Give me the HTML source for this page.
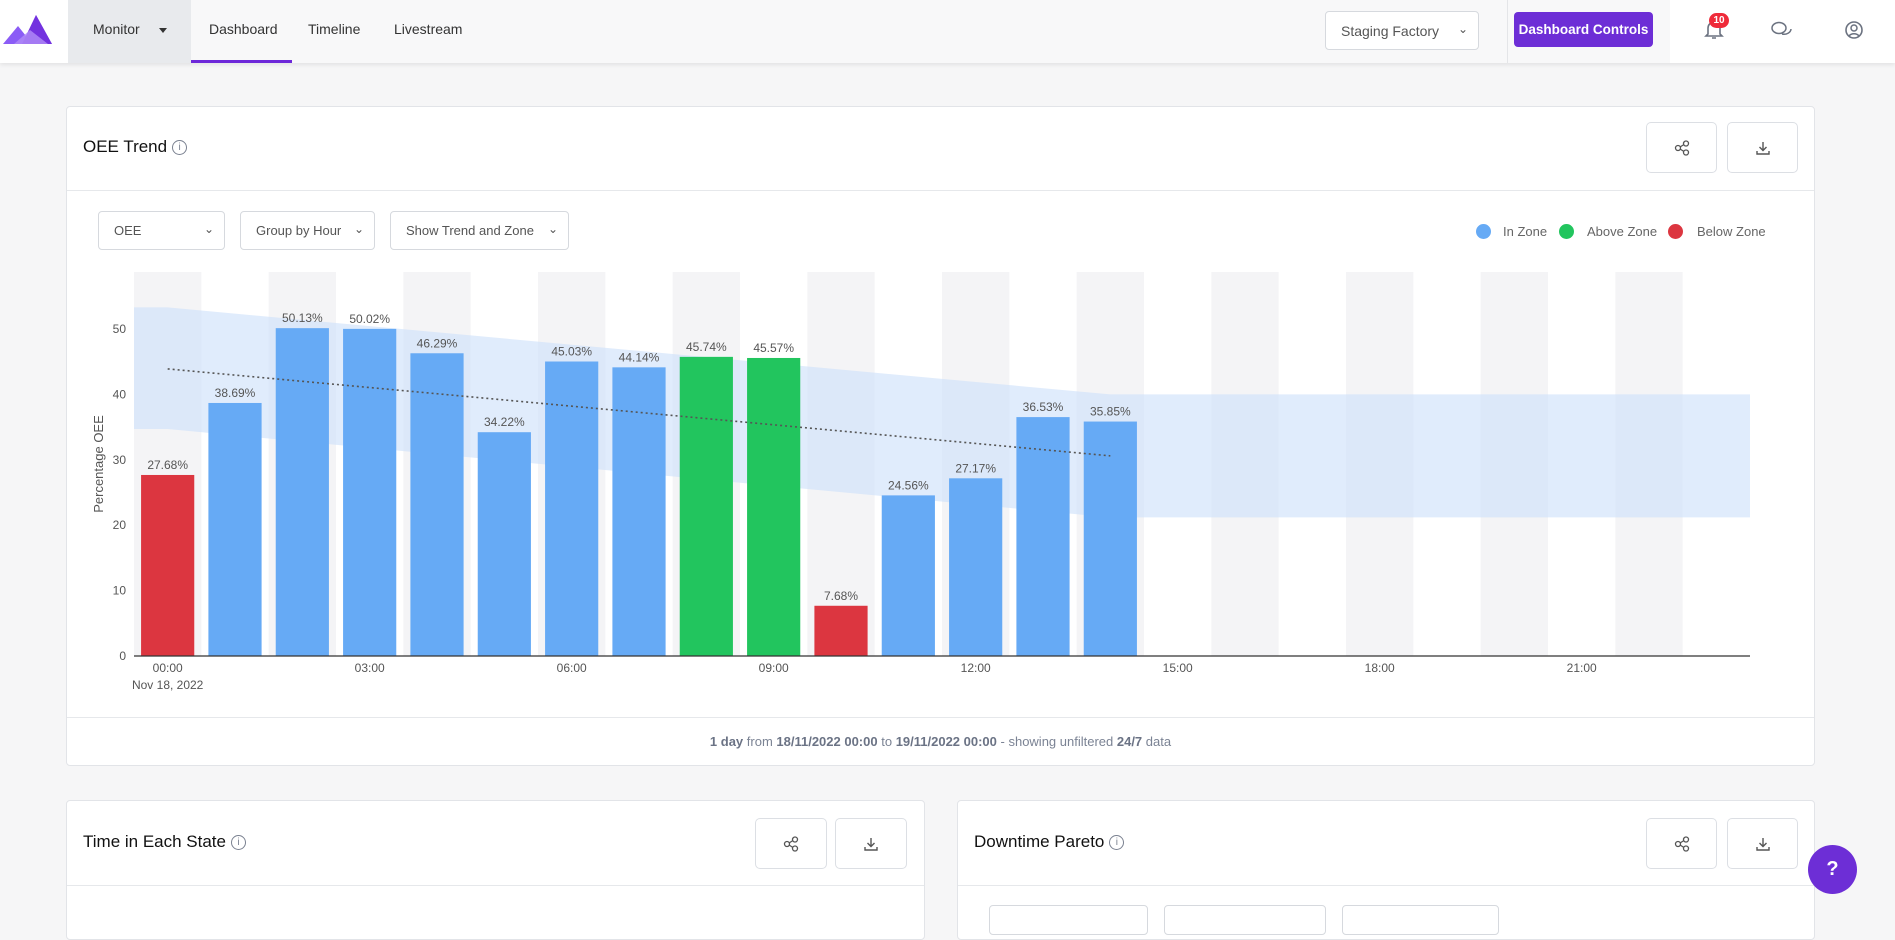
<!DOCTYPE html>
<html><head><meta charset="utf-8">
<style>
*{box-sizing:border-box;margin:0;padding:0}
body{width:1895px;height:915px;overflow:hidden;background:#f6f6f7;font-family:"Liberation Sans",sans-serif;position:relative;color:#333}
.abs{position:absolute}
.nav{left:0;top:0;width:1895px;height:63px;background:#f8f8f9;box-shadow:0 2px 4px rgba(0,0,0,.08)}
.navt{font-size:14px;color:#333;top:21px}
.card{background:#fff;border:1px solid #e2e4e8;border-radius:4px}
.btn{border:1px solid #dcdfe4;border-radius:5px;background:#fff;display:flex;align-items:center;justify-content:center}
.sel{border:1px solid #d6d9de;border-radius:4px;background:#fff;font-size:13px;color:#555;display:flex;align-items:center;padding-left:15px;white-space:nowrap}
.sel span.ch{position:absolute;right:10px;top:10px;font-size:12px;color:#555}
.title{font-size:17px;color:#111}
.info{display:inline-block;width:15px;height:15px;border:1.3px solid #7a8190;border-radius:50%;font-size:10px;text-align:center;line-height:13px;color:#7a8190;vertical-align:2px;margin-left:5px}
</style></head><body>
<div class="abs nav"></div>
<div class="abs" style="left:0;top:0;width:68px;height:63px;background:#fff">
<svg width="68" height="63"><polygon points="3,44 18,26 26,36 36,15 52,44" fill="#8b5cf6"/><polygon points="22,44 36,15 52,44" fill="#6d28d9" opacity=".8"/><polygon points="14,44 30,30 48,44" fill="#b18cf7" opacity=".8"/></svg></div>
<div class="abs" style="left:68px;top:0;width:123px;height:63px;background:#e8eaed"></div>
<div class="abs navt" style="left:93px">Monitor</div>
<div class="abs" style="left:159px;top:28px;border-left:4px solid transparent;border-right:4px solid transparent;border-top:5px solid #333"></div>
<div class="abs navt" style="left:209px">Dashboard</div>
<div class="abs" style="left:191px;top:60px;width:101px;height:3px;background:#6d28d9"></div>
<div class="abs navt" style="left:308px">Timeline</div>
<div class="abs navt" style="left:394px">Livestream</div>
<div class="abs sel" style="left:1325px;top:11px;width:154px;height:39px;font-size:14px">Staging Factory<span class="ch">&#8964;</span></div>
<div class="abs" style="left:1507px;top:0;width:1px;height:63px;background:#e4e5e8"></div>
<div class="abs" style="left:1514px;top:12px;width:139px;height:35px;background:#6d2ed6;border-radius:4px;color:#fff;font-size:13.5px;font-weight:bold;display:flex;align-items:center;justify-content:center;white-space:nowrap">Dashboard Controls</div>
<div class="abs" style="left:1670px;top:0;width:225px;height:63px;background:#fff"></div>
<svg class="abs" style="left:1703px;top:18px" width="22" height="22"><path d="M5,16 L5,10 A6,6 0 0 1 17,10 L17,16 L19,18 L3,18 Z M9,20 L13,20" fill="none" stroke="#6b7280" stroke-width="1.6"/></svg>
<div class="abs" style="left:1709px;top:13px;width:20px;height:15px;border-radius:8px;background:#ef2b3a;color:#fff;font-size:10px;font-weight:bold;text-align:center;line-height:15px">10</div>
<svg class="abs" style="left:1771px;top:20px" width="22" height="20"><ellipse cx="8" cy="8" rx="7" ry="5.5" fill="none" stroke="#6b7280" stroke-width="1.5"/><path d="M11,14 A7,5.5 0 0 0 20,9" fill="none" stroke="#6b7280" stroke-width="1.5"/></svg>
<svg class="abs" style="left:1843px;top:19px" width="22" height="22"><circle cx="11" cy="11" r="8" fill="none" stroke="#6b7280" stroke-width="1.6"/><circle cx="11" cy="9" r="3" fill="none" stroke="#6b7280" stroke-width="1.5"/><path d="M6,17 A6,5 0 0 1 16,17" fill="none" stroke="#6b7280" stroke-width="1.5"/></svg>

<div class="abs card" style="left:66px;top:106px;width:1749px;height:660px"></div>
<div class="abs title" style="left:83px;top:137px">OEE Trend<span class="info">i</span></div>
<div class="abs btn" style="left:1646px;top:122px;width:71px;height:51px"><svg width="16" height="16"><circle cx="4" cy="8" r="2.5" fill="none" stroke="#555" stroke-width="1.3"/><circle cx="12" cy="3.5" r="2.5" fill="none" stroke="#555" stroke-width="1.3"/><circle cx="12" cy="12.5" r="2.5" fill="none" stroke="#555" stroke-width="1.3"/><path d="M6,7 L10,4.5 M6,9 L10,11.5" stroke="#555" stroke-width="1.3"/></svg></div>
<div class="abs btn" style="left:1727px;top:122px;width:71px;height:51px"><svg width="16" height="16"><path d="M8,2 V10 M4.5,7 L8,10.5 L11.5,7 M2,11 V14 H14 V11" fill="none" stroke="#555" stroke-width="1.4"/></svg></div>
<div class="abs" style="left:67px;top:190px;width:1747px;height:1px;background:#e6e8eb"></div>
<div class="abs sel" style="left:98px;top:211px;width:127px;height:39px">OEE<span class="ch">&#8964;</span></div>
<div class="abs sel" style="left:240px;top:211px;width:135px;height:39px">Group by Hour<span class="ch">&#8964;</span></div>
<div class="abs sel" style="left:390px;top:211px;width:179px;height:39px">Show Trend and Zone<span class="ch">&#8964;</span></div>

<div class="abs" style="left:1476px;top:224px;width:15px;height:15px;border-radius:50%;background:#66aaf5"></div>
<div class="abs" style="left:1503px;top:224px;font-size:13px;color:#666">In Zone</div>
<div class="abs" style="left:1559px;top:224px;width:15px;height:15px;border-radius:50%;background:#22c55e"></div>
<div class="abs" style="left:1587px;top:224px;font-size:13px;color:#666">Above Zone</div>
<div class="abs" style="left:1668px;top:224px;width:15px;height:15px;border-radius:50%;background:#dc3640"></div>
<div class="abs" style="left:1697px;top:224px;font-size:13px;color:#666">Below Zone</div>

<svg id="chart" class="abs" style="left:0;top:0" width="1895" height="780"></svg>

<div class="abs" style="left:67px;top:717px;width:1747px;height:1px;background:#e6e8eb"></div>
<div class="abs" style="left:67px;top:734px;width:1747px;text-align:center;font-size:13px;color:#7b8394"><b style="color:#6b7385">1 day</b> from <b style="color:#6b7385">18/11/2022 00:00</b> to <b style="color:#6b7385">19/11/2022 00:00</b> - showing unfiltered <b style="color:#6b7385">24/7</b> data</div>

<div class="abs card" style="left:66px;top:800px;width:859px;height:140px"></div>
<div class="abs title" style="left:83px;top:832px">Time in Each State<span class="info">i</span></div>
<div class="abs btn" style="left:755px;top:818px;width:72px;height:51px"><svg width="16" height="16"><circle cx="4" cy="8" r="2.5" fill="none" stroke="#555" stroke-width="1.3"/><circle cx="12" cy="3.5" r="2.5" fill="none" stroke="#555" stroke-width="1.3"/><circle cx="12" cy="12.5" r="2.5" fill="none" stroke="#555" stroke-width="1.3"/><path d="M6,7 L10,4.5 M6,9 L10,11.5" stroke="#555" stroke-width="1.3"/></svg></div>
<div class="abs btn" style="left:835px;top:818px;width:72px;height:51px"><svg width="16" height="16"><path d="M8,2 V10 M4.5,7 L8,10.5 L11.5,7 M2,11 V14 H14 V11" fill="none" stroke="#555" stroke-width="1.4"/></svg></div>
<div class="abs" style="left:67px;top:885px;width:857px;height:1px;background:#e6e8eb"></div>

<div class="abs card" style="left:957px;top:800px;width:858px;height:140px"></div>
<div class="abs title" style="left:974px;top:832px">Downtime Pareto<span class="info">i</span></div>
<div class="abs btn" style="left:1646px;top:818px;width:71px;height:51px"><svg width="16" height="16"><circle cx="4" cy="8" r="2.5" fill="none" stroke="#555" stroke-width="1.3"/><circle cx="12" cy="3.5" r="2.5" fill="none" stroke="#555" stroke-width="1.3"/><circle cx="12" cy="12.5" r="2.5" fill="none" stroke="#555" stroke-width="1.3"/><path d="M6,7 L10,4.5 M6,9 L10,11.5" stroke="#555" stroke-width="1.3"/></svg></div>
<div class="abs btn" style="left:1727px;top:818px;width:71px;height:51px"><svg width="16" height="16"><path d="M8,2 V10 M4.5,7 L8,10.5 L11.5,7 M2,11 V14 H14 V11" fill="none" stroke="#555" stroke-width="1.4"/></svg></div>
<div class="abs" style="left:958px;top:885px;width:856px;height:1px;background:#e6e8eb"></div>
<div class="abs sel" style="left:989px;top:905px;width:159px;height:30px"></div>
<div class="abs sel" style="left:1164px;top:905px;width:162px;height:30px"></div>
<div class="abs sel" style="left:1342px;top:905px;width:157px;height:30px"></div>
<div class="abs" style="left:1808px;top:845px;width:49px;height:49px;border-radius:50%;background:#6d2ed6;color:#fff;font-weight:bold;font-size:20px;text-align:center;line-height:49px">?</div>

<script>
const hours = ["00:00","01:00","02:00","03:00","04:00","05:00","06:00","07:00","08:00","09:00","10:00","11:00","12:00","13:00","14:00"];
const oeeValues = [27.68,38.69,50.13,50.02,46.29,34.22,45.03,44.14,45.74,45.57,7.68,24.56,27.17,36.53,35.85];
const zoneStatus = ["below","in","in","in","in","in","in","in","above","above","below","in","in","in","in"];
const yTicks = [0,10,20,30,40,50];
const xTickLabels = ["00:00","03:00","06:00","09:00","12:00","15:00","18:00","21:00"];
const zoneUpper = [53.3,40.0];
const zoneLower = [34.7,21.2];
const trendValues = [43.9,30.6];
const slotCount = 24;

const NS="http://www.w3.org/2000/svg";
const svg=document.getElementById('chart');
const X0=134,X1=1750,Y0=656,YTOP=272,sw=(X1-X0)/slotCount;
const y=v=>Y0-v*6.54;
const xc=i=>X0+(i+0.5)*sw;
const colors={below:"#dc3640",in:"#66aaf5",above:"#22c55e"};
function mk(tag,a){const e=document.createElementNS(NS,tag);for(const k in a)e.setAttribute(k,a[k]);svg.appendChild(e);return e;}
for(let i=0;i<slotCount;i+=2){
 const r=mk('rect',{x:X0+i*sw,y:YTOP,width:sw,height:Y0-YTOP,fill:'#f4f4f6'});
 
 
}
const endI=hours.length-1;
const zp=[[X0,y(zoneUpper[0])],[xc(0),y(zoneUpper[0])],[xc(endI),y(zoneUpper[1])],[X1,y(zoneUpper[1])],[X1,y(zoneLower[1])],[xc(endI),y(zoneLower[1])],[xc(0),y(zoneLower[0])],[X0,y(zoneLower[0])]];
const zone=mk('polygon',{points:zp.map(p=>p.join(',')).join(' '),fill:'#cfe2fa',opacity:'0.65'});


yTicks.forEach(t=>{
 const tx=mk('text',{x:X0-8,y:y(t)+4,'text-anchor':'end','font-size':12,fill:'#555'});tx.textContent=t;
 
 
});
const yt=mk('text',{x:0,y:0,transform:`translate(103,${(Y0+YTOP)/2}) rotate(-90)`,'text-anchor':'middle','font-size':13,fill:'#555'});
yt.textContent='Percentage OEE';


const bw=sw*0.79;
oeeValues.forEach((v,i)=>{
 const b=mk('rect',{x:xc(i)-bw/2,y:y(v),width:bw,height:Y0-y(v),fill:colors[zoneStatus[i]]});
 
 
 const l=mk('text',{x:xc(i),y:y(v)-6,'text-anchor':'middle','font-size':12,fill:'#555'});
 l.textContent=v.toFixed(2)+'%';
 
 
});
const tr=mk('line',{x1:xc(0),y1:y(trendValues[0]),x2:xc(endI),y2:y(trendValues[1]),stroke:'#555','stroke-width':1.6,'stroke-dasharray':'2,3'});


const ax=mk('line',{x1:X0,y1:Y0,x2:X1,y2:Y0,stroke:'#333','stroke-width':1.3});


xTickLabels.forEach((t,k)=>{
 const tx=mk('text',{x:xc(k*3),y:Y0+16,'text-anchor':'middle','font-size':12,fill:'#555'});tx.textContent=t;
 
 
});
const dl=mk('text',{x:xc(0),y:Y0+33,'text-anchor':'middle','font-size':12,fill:'#555'});
dl.textContent='Nov 18, 2022';


</script>
</body></html>
